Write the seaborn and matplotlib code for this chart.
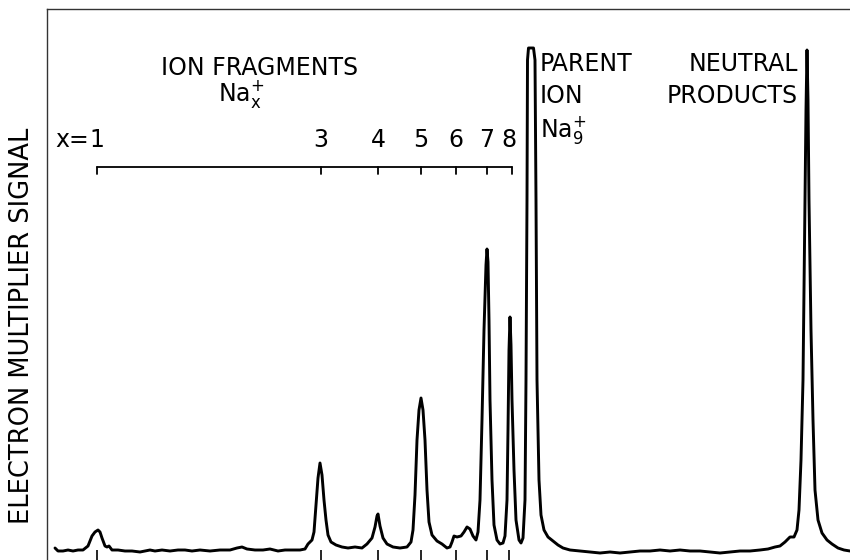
import matplotlib
matplotlib.use("Agg")
import matplotlib.pyplot as plt
import seaborn as sns
import pandas as pd

# ---- data (time-of-flight axis in arbitrary units, signal in arbitrary units)
trace_time = [55, 58, 63, 68, 73, 78, 83, 88, 92, 95, 98, 100, 102, 105, 107, 109, 112, 118, 125, 132,
              140, 145, 150, 155, 162, 170, 178, 185, 192, 200, 210, 220, 230, 237, 242, 247, 255, 263,
              270, 278, 285, 292, 300, 305, 308, 312, 314, 316, 318, 320, 322, 324, 326, 328, 331, 336,
              342, 348, 355, 362, 367, 372, 375, 377, 378, 380, 383, 387, 393, 400, 407, 411, 413, 415,
              417, 419, 421, 423, 425, 427, 429, 432, 437, 442, 447, 450, 452, 454, 457, 461, 464, 467,
              470, 473, 476, 478, 480, 482, 484, 486, 487, 488, 489, 490, 492, 494, 497, 500, 503, 505,
              507, 508, 509, 510, 511, 512, 514, 516, 519, 521, 523, 525, 526, 527, 527.5, 528.5, 533.5,
              535, 536, 537, 539, 541, 544, 548, 553, 558, 563, 570, 580, 590, 600, 610, 620, 630, 640,
              650, 660, 670, 680, 690, 700, 710, 720, 730, 740, 750, 760, 768, 775, 780, 785, 790, 794,
              797, 799, 801, 803, 805, 806, 807, 808, 809, 811, 813, 815, 818, 822, 827, 832, 838, 844, 850]
trace_signal = [12, 9, 9, 10, 9, 10, 10, 14, 24, 28, 30, 28, 22, 14, 13, 14, 10, 10, 9, 9,
                8, 9, 10, 9, 10, 9, 10, 10, 9, 10, 9, 10, 10, 12, 13, 11, 10, 10,
                11, 9, 10, 10, 10, 11, 16, 20, 28, 55, 82, 97, 85, 60, 40, 25, 18, 15,
                13, 12, 13, 12, 16, 22, 33, 44, 46, 34, 22, 16, 13, 12, 13, 18, 30, 65,
                120, 150, 162, 150, 120, 70, 38, 25, 19, 16, 12, 13, 18, 24, 23, 24, 28, 33,
                31, 24, 20, 28, 60, 140, 230, 295, 311, 298, 240, 160, 80, 35, 20, 16, 17, 24,
                60, 130, 210, 243, 215, 160, 90, 40, 20, 17, 22, 60, 180, 360, 500, 512, 512,
                500, 360, 180, 80, 45, 30, 23, 19, 15, 12, 10, 9, 8, 7, 8, 7, 8, 9,
                9, 10, 9, 10, 9, 9, 8, 7, 8, 9, 9, 10, 11, 13, 14, 18, 23, 23,
                30, 50, 100, 180, 360, 450, 510, 460, 360, 230, 140, 70, 40, 27, 20, 16, 12, 10, 9]

fragment_sizes = ["1", "3", "4", "5", "6", "7", "8"]
fragment_times = [97, 321, 378, 421, 456, 487, 509]
bracket_end = 512

df = pd.DataFrame({"time": trace_time, "signal": trace_signal})

sns.set_style("white")
plt.rcParams["font.family"] = ["DejaVu Sans"]
plt.rcParams["mathtext.default"] = "regular"
plt.rcParams["text.color"] = "black"
plt.rcParams["axes.labelcolor"] = "black"

fig = plt.figure(figsize=(8.5, 5.6), dpi=100)
ax = fig.add_axes([47 / 850, 0.0, 803 / 850, 551 / 560])

sns.lineplot(data=df, x="time", y="signal", ax=ax, color="black", lw=2.1,
             sort=False, estimator=None)

ax.set_xlim(47, 850)
ax.set_ylim(0, 551)

for side in ["right", "bottom"]:
    ax.spines[side].set_visible(False)
for side in ["left", "top"]:
    ax.spines[side].set_color("#333333")
    ax.spines[side].set_linewidth(1.0)

ax.set_xticks(fragment_times)
ax.set_xticklabels([])
ax.set_yticks([])
ax.tick_params(axis="x", direction="in", length=7, width=1.2, color="black", bottom=True)
ax.set_xlabel("")
ax.set_ylabel("ELECTRON MULTIPLIER SIGNAL", fontsize=18.5)
ax.yaxis.set_label_coords(-0.015, 0.425)

fs = 17
ax.text(260, 492, "ION FRAGMENTS", ha="center", va="center", fontsize=fs)
ax.text(241, 466, r"Na$_{x}^{+}$", ha="center", va="center", fontsize=fs)

ax.text(55, 420, "x=", ha="left", va="center", fontsize=fs)
for lab, t in zip(fragment_sizes, fragment_times):
    ax.text(t, 420, lab, ha="center", va="center", fontsize=fs)

# bracket over the fragment peaks
ax.plot([fragment_times[0], bracket_end], [393, 393], color="black", lw=1.3)
for t in fragment_times[:-1] + [bracket_end]:
    ax.plot([t, t], [393, 386], color="black", lw=1.3)

ax.text(540, 496, "PARENT", ha="left", va="center", fontsize=fs)
ax.text(540, 464, "ION", ha="left", va="center", fontsize=fs)
ax.text(540, 430, r"Na$_{9}^{+}$", ha="left", va="center", fontsize=fs)

ax.text(798, 496, "NEUTRAL", ha="right", va="center", fontsize=fs)
ax.text(798, 464, "PRODUCTS", ha="right", va="center", fontsize=fs)

fig.savefig("out.png", dpi=100)
